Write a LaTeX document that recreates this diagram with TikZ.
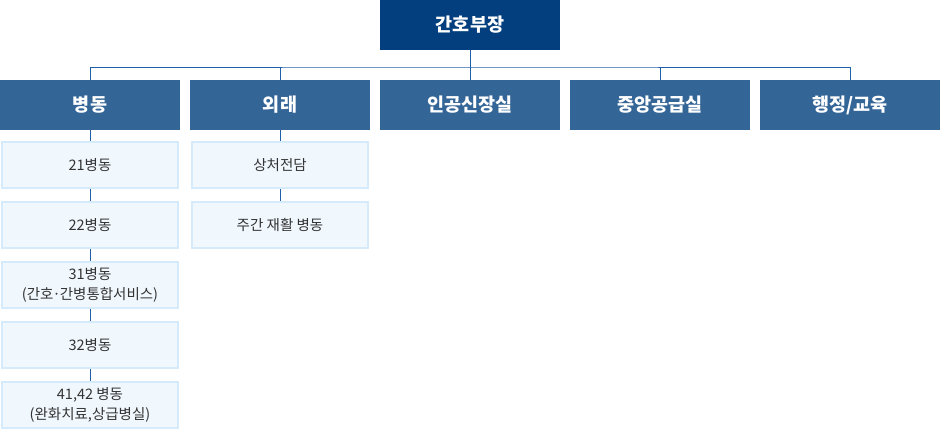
\documentclass[tikz,border=0pt]{standalone}
\usepackage{fontspec}
\setmainfont{Noto Sans CJK KR}
\definecolor{topblue}{HTML}{033F7E}
\definecolor{midblue}{HTML}{346597}
\definecolor{subfill}{HTML}{F0F7FD}
\definecolor{subborder}{HTML}{D5EAFA}
\definecolor{linkblue}{HTML}{1F5FA8}
\definecolor{subtext}{HTML}{333333}
\newcommand{\middot}{\kern-0.06em·\kern-0.06em}
\tikzset{
  headbox/.style={fill=topblue, draw=none, minimum width=180pt, minimum height=50pt, inner sep=0pt, text=white, font=\fontsize{18.5}{20}\selectfont\bfseries},
  deptbox/.style={fill=midblue, draw=none, minimum width=180pt, minimum height=50pt, inner sep=0pt, text=white, font=\fontsize{18.5}{20}\selectfont\bfseries},
  unitbox/.style={fill=subfill, draw=subborder, line width=2pt, minimum width=176pt, minimum height=46pt, inner sep=0pt, text=subtext, align=center, font=\fontsize{14.5}{20}\selectfont},
  link/.style={draw=linkblue, line width=1pt}
}
\begin{document}
\begin{tikzpicture}[x=1pt,y=-1pt]
\useasboundingbox (0,0) rectangle (941,431);
\node[headbox] (head) at (470,25) {간호부장};
\node[deptbox] (d1) at (90,105) {병동};
\node[deptbox] (d2) at (280,105) {외래};
\node[deptbox] (d3) at (470,105) {인공신장실};
\node[deptbox] (d4) at (660,105) {중앙공급실};
\node[deptbox] (d5) at (850,105) {행정/교육};
\coordinate (bus) at (470,67);
\node[unitbox] (u1) at (90,165) {21병동};
\node[unitbox] (u2) at (90,225) {22병동};
\node[unitbox] (u3) at (90,285) {31병동\\(간호\middot 간병통합서비스)};
\node[unitbox] (u4) at (90,345) {32병동};
\node[unitbox] (u5) at (90,405) {41,42 병동\\(완화치료,상급병실)};
\node[unitbox] (o1) at (280,165) {상처전담};
\node[unitbox] (o2) at (280,225) {주간 재활 병동};
\draw[link] (head.south) -- (d3.north);
\draw[link] (d1.north) |- (bus) -| (d5.north);
\draw[link] (d2.north) -- (d2.north |- bus);
\draw[link] (d4.north) -- (d4.north |- bus);
\draw[link] (d1.south) -- (u1.north);
\draw[link] (u1.south) -- (u2.north);
\draw[link] (u2.south) -- (u3.north);
\draw[link] (u3.south) -- (u4.north);
\draw[link] (u4.south) -- (u5.north);
\draw[link] (d2.south) -- (o1.north);
\draw[link] (o1.south) -- (o2.north);
\end{tikzpicture}
\end{document}
